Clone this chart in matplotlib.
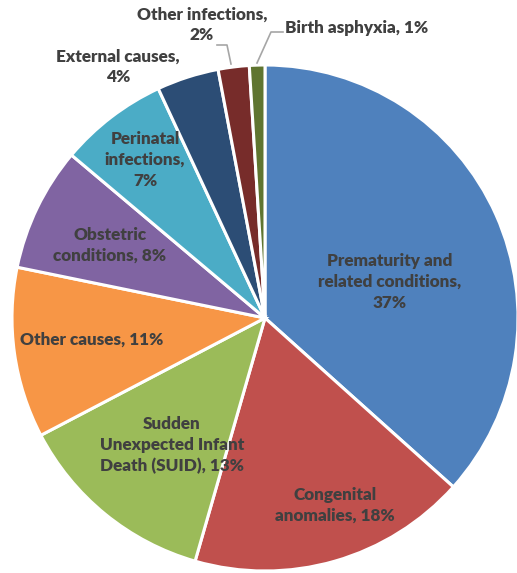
import matplotlib.pyplot as plt

causes = ['Prematurity and\nrelated conditions,\n37%', 'Congenital\nanomalies, 18%',
          'Sudden\nUnexpected Infant\nDeath (SUID), 13%', 'Other causes, 11%',
          'Obstetric\nconditions, 8%', 'Perinatal\ninfections,\n7%',
          'External causes,\n4%', 'Other infections,\n2%', 'Birth asphyxia, 1%']
shares = [37, 18, 13, 11, 8, 7, 4, 2, 1]
colors = ['#4F81BD', '#C0504D', '#9BBB59', '#F79646', '#8064A2',
          '#4BACC6', '#2C4D75', '#772C2A', '#5F7530']
# label centres, pixel coords in the picture
label_px = [(390, 282), (335, 505), (172, 445), (92, 340), (110, 245),
            (145, 160), (118, 67), (202, 25), (357, 28)]

plt.rcParams['font.family'] = ['Lato', 'DejaVu Sans']

fig = plt.figure(figsize=(5.17, 5.73), dpi=100)
ax = fig.add_axes([12 / 517, 2 / 573, 506 / 517, 506 / 573])
ax.pie(shares, colors=colors, startangle=90, counterclock=False, radius=1,
       wedgeprops=dict(edgecolor='white', linewidth=2.2))
ax.set_xlim(-1, 1)
ax.set_ylim(-1, 1)
ax.set_aspect('equal')
ax.axis('off')


def to_data(px, py):
    return (px - 265) / 253, (318 - py) / 253


for lab, (px, py) in zip(causes, label_px):
    x, y = to_data(px, py)
    ax.text(x, y, lab, ha='center', va='center', fontsize=12.3, fontweight='heavy',
            color='#404040', linespacing=1.35, clip_on=False)

# leader lines for the two small slices
for pts in [[(217, 45), (227, 45), (231, 64)], [(283, 32), (271, 32), (257, 63)]]:
    xs, ys = zip(*[to_data(*p) for p in pts])
    ax.plot(xs, ys, color='#A6A6A6', lw=1.2, clip_on=False)

fig.savefig('out.png', dpi=100)
